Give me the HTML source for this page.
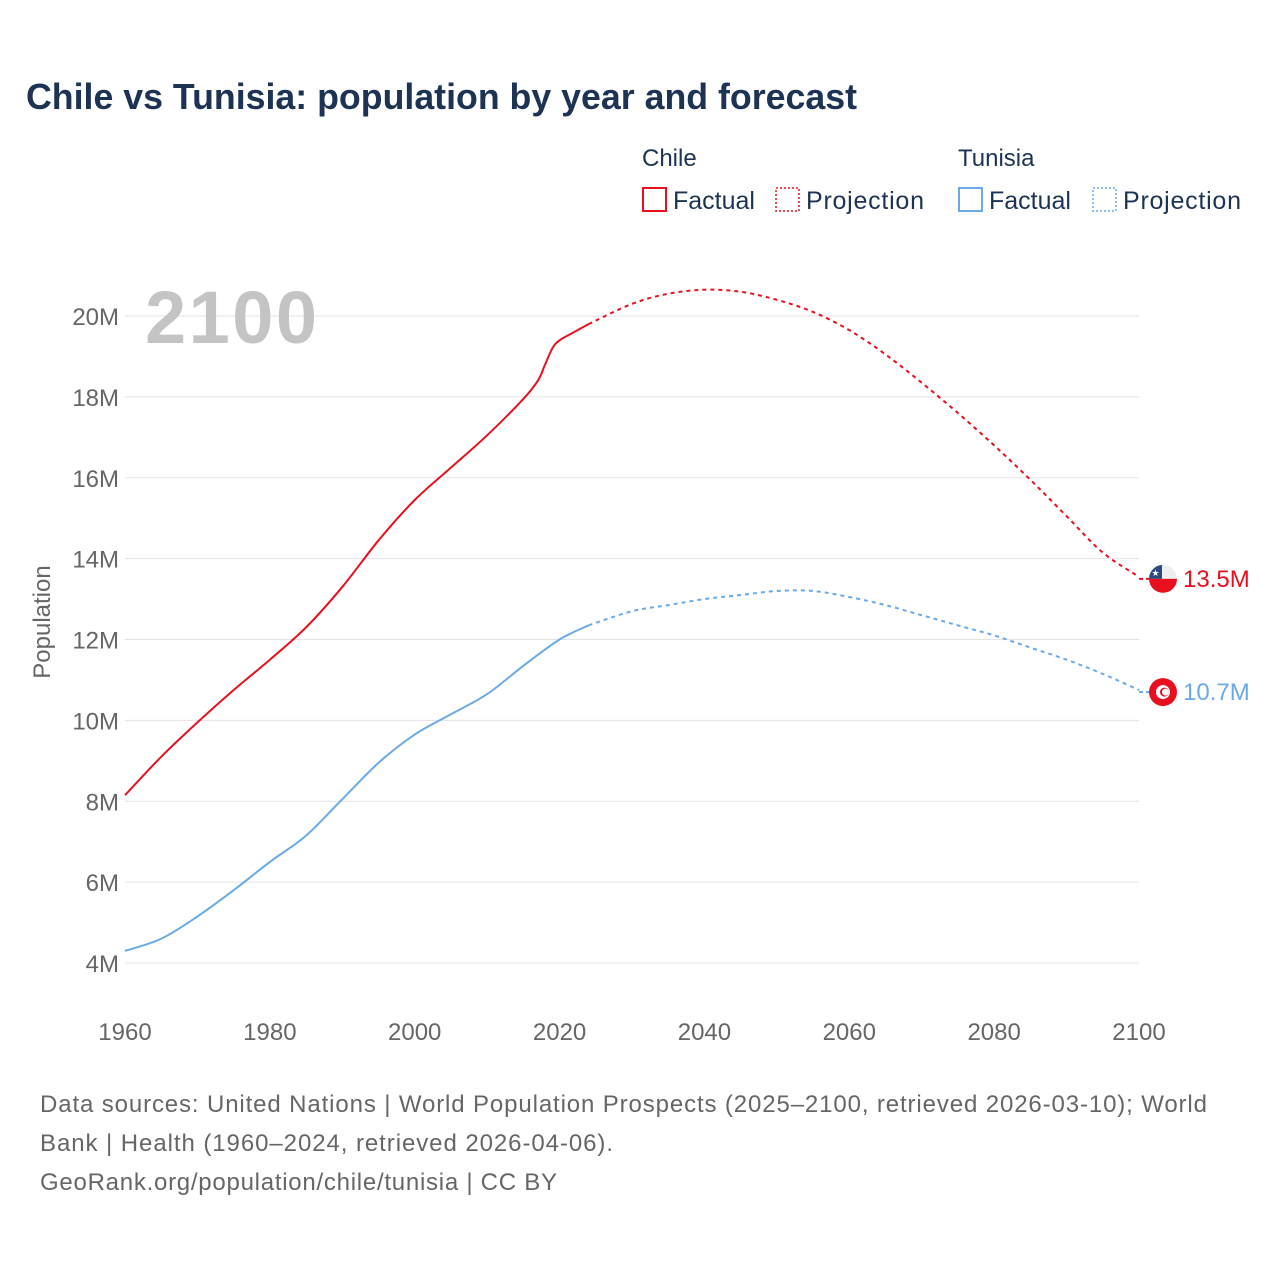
<!DOCTYPE html>
<html><head><meta charset="utf-8"><style>
body{margin:0;background:#fff;font-family:"Liberation Sans",sans-serif;}
svg text{font-family:"Liberation Sans",sans-serif;}
</style></head><body>
<svg id="chart" width="1280" height="1280" xmlns="http://www.w3.org/2000/svg">
<rect width="1280" height="1280" fill="#fff"/>
<text x="26" y="109" font-size="36" font-weight="bold" fill="#1d3354" textLength="831" lengthAdjust="spacingAndGlyphs">Chile vs Tunisia: population by year and forecast</text>
<g>
<text x="642" y="166" font-size="24" fill="#1d3354">Chile</text>
<rect x="643" y="188" width="23" height="23" fill="none" stroke="#e8101e" stroke-width="2"/>
<text x="673" y="209" font-size="25" fill="#1d3354">Factual</text>
<rect x="776" y="188" width="23" height="23" fill="none" stroke="#e8101e" stroke-width="1.5" stroke-dasharray="2,2"/>
<text x="806" y="209" font-size="25" fill="#1d3354" textLength="118">Projection</text>
<text x="958" y="166" font-size="24" fill="#1d3354">Tunisia</text>
<rect x="959" y="188" width="23" height="23" fill="none" stroke="#6aaae9" stroke-width="2"/>
<text x="989" y="209" font-size="25" fill="#1d3354">Factual</text>
<rect x="1093" y="188" width="23" height="23" fill="none" stroke="#6aaae9" stroke-width="1.5" stroke-dasharray="2,2"/>
<text x="1123" y="209" font-size="25" fill="#1d3354" textLength="118">Projection</text>
</g>
<g id="grid"></g>
<text x="145" y="343" font-size="74" font-weight="bold" fill="#c4c4c4" textLength="172">2100</text>
<text transform="translate(50,622) rotate(-90)" text-anchor="middle" font-size="24" fill="#666">Population</text>
<g id="series"></g>
<g font-size="24" fill="#666">
<text x="40" y="1112" textLength="1167">Data sources: United Nations | World Population Prospects (2025–2100, retrieved 2026-03-10); World</text>
<text x="40" y="1151" textLength="573">Bank | Health (1960–2024, retrieved 2026-04-06).</text>
<text x="40" y="1190" textLength="517">GeoRank.org/population/chile/tunisia | CC BY</text>
</g>
</svg>
<script>
const yTicks=[4,6,8,10,12,14,16,18,20];
const xTicks=[1960,1980,2000,2020,2040,2060,2080,2100];
const chileFactYears=[1960,1965,1970,1975,1980,1985,1990,1995,2000,2005,2010,2015,2017,2018,2019,2020,2022,2024];
const chileFactVals=[8.15,9.1,9.95,10.75,11.5,12.3,13.3,14.45,15.45,16.25,17.05,17.95,18.4,18.8,19.2,19.4,19.6,19.8];
const chileProjYears=[2024,2030,2035,2040,2045,2050,2055,2060,2065,2070,2075,2080,2085,2090,2095,2100];
const chileProjVals=[19.8,20.3,20.55,20.65,20.6,20.4,20.1,19.65,19.05,18.35,17.6,16.8,15.95,15.05,14.15,13.55];
const tunFactYears=[1960,1965,1970,1975,1980,1985,1990,1995,2000,2005,2010,2015,2020,2024];
const tunFactVals=[4.3,4.6,5.15,5.8,6.5,7.15,8.05,8.95,9.65,10.15,10.65,11.35,12.0,12.35];
const tunProjYears=[2024,2030,2035,2040,2045,2050,2055,2060,2065,2070,2075,2080,2085,2090,2095,2100];
const tunProjVals=[12.35,12.7,12.85,13.0,13.1,13.2,13.2,13.05,12.85,12.6,12.35,12.1,11.8,11.5,11.15,10.75];
const chileLast=13.5, tunLast=10.7;
const NS="http://www.w3.org/2000/svg";
const X=y=>125+(y-1960)*(1139-125)/140;
const Y=v=>963-(v-4)*(963-316)/16;
function mk(t,a,p){const e=document.createElementNS(NS,t);for(const k in a)e.setAttribute(k,a[k]);p.appendChild(e);return e;}
const grid=document.getElementById('grid');
yTicks.forEach(v=>{
 const l=mk('line',{x1:125,x2:1139,y1:Y(v),y2:Y(v),stroke:'#e3e3e3','stroke-width':1},grid);
 
 
 const t=mk('text',{x:119,y:Y(v)+9,'text-anchor':'end','font-size':24,fill:'#666'},grid);
 t.textContent=v+'M';
 
 
});
xTicks.forEach(y=>{
 const t=mk('text',{x:X(y),y:1040,'text-anchor':'middle','font-size':24,fill:'#666'},grid);
 t.textContent=y;
 
 
});
function path(xs,vs){
 const p=xs.map((x,i)=>[X(x),Y(vs[i])]);
 let d='M'+p[0][0]+','+p[0][1];
 for(let i=0;i<p.length-1;i++){
  const p0=p[i-1]||p[i],p1=p[i],p2=p[i+1],p3=p[i+2]||p2;
  const c1=[p1[0]+(p2[0]-p0[0])/6,p1[1]+(p2[1]-p0[1])/6],c2=[p2[0]-(p3[0]-p1[0])/6,p2[1]-(p3[1]-p1[1])/6];
  d+=` C${c1[0]},${c1[1]} ${c2[0]},${c2[1]} ${p2[0]},${p2[1]}`;
 }
 return d;
}
const s=document.getElementById('series');
function line(xs,vs,col,dash,name){
 const a={d:path(xs,vs),fill:'none',stroke:col,'stroke-width':2};
 if(dash)a['stroke-dasharray']='4,4';
 const e=mk('path',a,s);
 
 
}
line(chileFactYears,chileFactVals,'#e8101e',false,'chile-factual-line');
line(chileProjYears,chileProjVals,'#e8101e',true,'chile-projection-line');
line(tunFactYears,tunFactVals,'#6aaae9',false,'tunisia-factual-line');
line(tunProjYears,tunProjVals,'#6aaae9',true,'tunisia-projection-line');
function marker(v,col,label,name,chile){
 const y=Y(v),cx=1163;
 mk('line',{x1:1139,x2:1150,y1:y,y2:y,stroke:col,'stroke-width':2,'stroke-dasharray':'4,3'},s);
 const g=mk('g',{},s);
 
 
 if(chile){
  mk('clipPath',{id:'cc'},g).appendChild(document.createElementNS(NS,'circle'));
  const c=g.querySelector('circle');c.setAttribute('cx',cx);c.setAttribute('cy',y);c.setAttribute('r',14);
  const gg=mk('g',{'clip-path':'url(#cc)'},g);
  mk('rect',{x:cx-14,y:y-14,width:28,height:14,fill:'#eee'},gg);
  mk('rect',{x:cx-14,y:y-14,width:13,height:14,fill:'#2b4a80'},gg);
  mk('rect',{x:cx-14,y:y,width:28,height:14,fill:'#e8101e'},gg);
  const st=mk('text',{x:cx-7.5,y:y-3,'font-size':9,fill:'#fff','text-anchor':'middle'},gg);st.textContent='★';
 }else{
  mk('circle',{cx:cx,cy:y,r:14,fill:'#e8101e'},g);
  mk('circle',{cx:cx,cy:y,r:7,fill:'#fff'},g);
  mk('circle',{cx:cx+1.5,cy:y,r:4.5,fill:'#e8101e'},g);
  mk('circle',{cx:cx+2.5,cy:y,r:3.5,fill:'#fff'},g);
 }
 const t=mk('text',{x:1183,y:y+8,'font-size':24,fill:col},s);
 t.textContent=label;
 
 
}
marker(chileLast,'#e8101e',chileLast.toFixed(1)+'M','chile',true);
marker(tunLast,'#6aaae9',tunLast.toFixed(1)+'M','tunisia',false);
</script>
</body></html>
